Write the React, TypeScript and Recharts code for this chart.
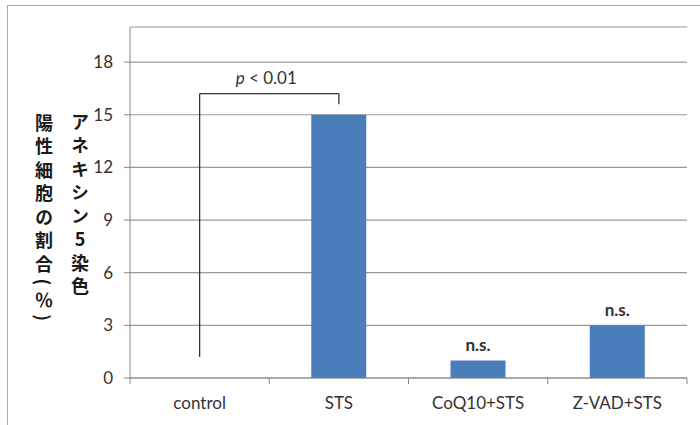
import React from 'react';
import { BarChart, Bar, XAxis, YAxis, CartesianGrid, ReferenceLine, LabelList, Customized } from 'recharts';

const categories = ['control', 'STS', 'CoQ10+STS', 'Z-VAD+STS'];
const values = [0, 15, 1, 3];
const sigLabels = ['', '', 'n.s.', 'n.s.'];
const yTicks = [0, 3, 6, 9, 12, 15, 18];
const yDomainMax = 20;
const yLabelRight = 'アネキシン5染色';
const yLabelLeft = '陽性細胞の割合(％)';
const bracketFrom = 'control';
const bracketTo = 'STS';
const bracketLeftLow = 1.2;
const bracketTop = 16.2;
const bracketRightLow = 15.6;

const data = categories.map((c, i) => ({ name: c, value: values[i], sig: sigLabels[i] }));

const LATIN = 'Lato, "Open Sans", sans-serif';
const CJK = '"Noto Sans CJK JP", sans-serif';

const XTick = (props: any) => {
  const { x, y, payload, index, visibleTicksCount, width } = props;
  const half = payload && payload.offset ? payload.offset : width / visibleTicksCount / 2;
  const axisY = y - 6;
  return (
    <g>
      <line x1={x - half} x2={x - half} y1={axisY} y2={axisY + 6} stroke="#888" />
      {index === visibleTicksCount - 1 && (
        <line x1={x + half} x2={x + half} y1={axisY} y2={axisY + 6} stroke="#888" />
      )}
      <text x={x} y={y + 25} textAnchor="middle" fill="#333" fontSize={17} fontFamily={LATIN}>
        {payload.value}
      </text>
    </g>
  );
};

const PLabel = (props: any) => {
  const { viewBox } = props;
  if (!viewBox) return null;
  const cx = viewBox.x + viewBox.width / 2 - 3;
  return (
    <text x={cx} y={viewBox.y - 10} textAnchor="middle" fill="#333" fontSize={17} fontFamily={LATIN}>
      <tspan fontStyle="italic">p</tspan>
      <tspan> &lt; 0.01</tspan>
    </text>
  );
};

const YLabel = () => {
  return (
    <g>
      <text
        x={80}
        y={113}
        style={{ writingMode: 'vertical-rl', textOrientation: 'upright', letterSpacing: '5.5px' } as any}
        fontSize={18}
        fontWeight="bold"
        fill="#1a1a1a"
        fontFamily={CJK}
      >
        {yLabelRight}
      </text>
      <text
        x={44}
        y={114}
        style={{ writingMode: 'vertical-rl', textOrientation: 'mixed', letterSpacing: '5.5px' } as any}
        fontSize={18}
        fontWeight="bold"
        fill="#1a1a1a"
        fontFamily={CJK}
      >
        {yLabelLeft}
      </text>
    </g>
  );
};

export default function App() {
  return (
    <div style={{ position: 'absolute', left: 0, top: 0, width: 700, height: 425, background: '#fff', overflow: 'hidden' }}>
      <div style={{ position: 'absolute', left: 7, top: 5, width: 720, height: 440, border: '1px solid #a8a8a8' }} />
      <div style={{ position: 'absolute', left: 0, top: 0 }}>
        <BarChart width={700} height={425} data={data} margin={{ top: 27, right: 13, bottom: 0, left: 0 }} style={{ fontFamily: LATIN }}>
          <CartesianGrid vertical={false} stroke="#999" strokeWidth={1.2} />
          <XAxis
            dataKey="name"
            height={47}
            axisLine={{ stroke: '#888' }}
            tickLine={false}
            tickSize={6}
            tickMargin={0}
            tick={<XTick />}
            interval={0}
          />
          <YAxis
            width={130}
            domain={[0, yDomainMax]}
            ticks={yTicks}
            allowDataOverflow
            axisLine={{ stroke: '#888' }}
            tickLine={{ stroke: '#888' }}
            tickSize={6}
            tickMargin={11}
            tick={{ fill: '#333', fontSize: 17, fontFamily: LATIN }}
          />
          <Bar dataKey="value" fill="#4a7ebb" barSize={55} isAnimationActive={false}>
            <LabelList dataKey="sig" position="top" offset={9} fill="#333" fontSize={17} fontWeight="bold" fontFamily={LATIN} />
          </Bar>
          <ReferenceLine
            segment={[{ x: bracketFrom, y: bracketLeftLow }, { x: bracketFrom, y: bracketTop }]}
            stroke="#333"
            strokeWidth={1.3}
          />
          <ReferenceLine
            segment={[{ x: bracketFrom, y: bracketTop }, { x: bracketTo, y: bracketTop }]}
            stroke="#333"
            strokeWidth={1.3}
            label={<PLabel />}
          />
          <ReferenceLine
            segment={[{ x: bracketTo, y: bracketTop }, { x: bracketTo, y: bracketRightLow }]}
            stroke="#333"
            strokeWidth={1.3}
          />
          <Customized component={<YLabel />} />
        </BarChart>
      </div>
    </div>
  );
}
